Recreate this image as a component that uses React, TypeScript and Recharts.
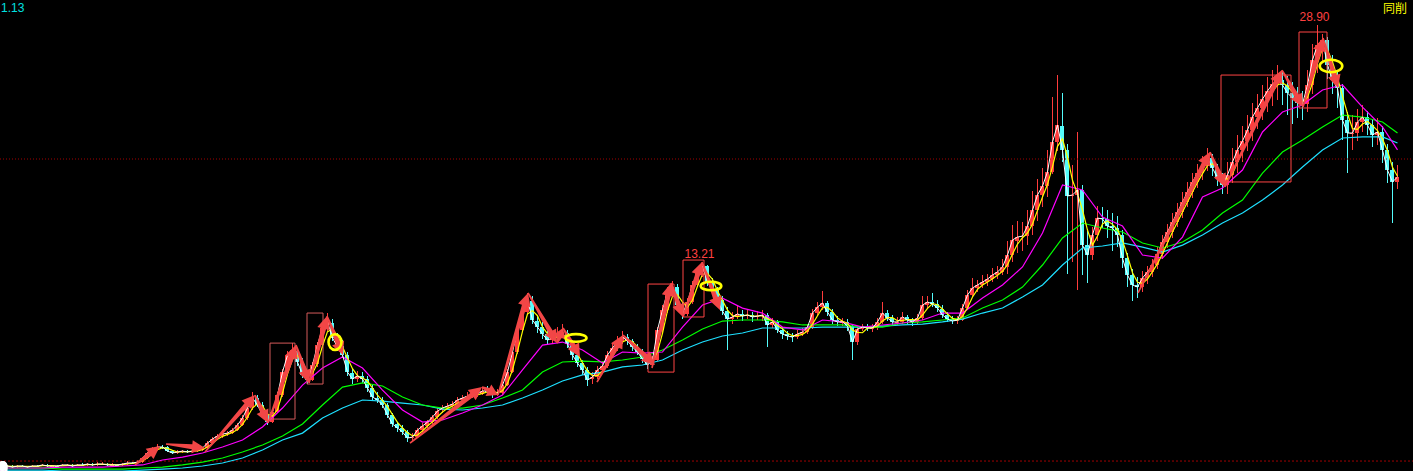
import {
  Bar,
  ComposedChart,
  Line,
  ReferenceArea,
  ReferenceDot,
  ReferenceLine,
  XAxis,
  YAxis,
} from 'recharts';

const W = 1413;
const H = 471;

const UP = '#ff3c3c';
const DOWN = '#54fcfc';
const ARROW = '#f24646';
const RING = '#ffff00';
const GRID = '#a00000';

// One candle per five sessions: [open, high, low, close], forward-adjusted price.
const OHLC: [number, number, number, number][] = [
  [-0.30, -0.22, -0.40, -0.33], [-0.35, -0.26, -0.42, -0.33], [-0.33, -0.28, -0.46, -0.40], [-0.40, -0.28, -0.44, -0.33], [-0.31, -0.26, -0.40, -0.33],
  [-0.34, -0.30, -0.46, -0.40], [-0.40, -0.28, -0.42, -0.33], [-0.32, -0.26, -0.40, -0.33], [-0.33, -0.18, -0.36, -0.26], [-0.27, -0.22, -0.40, -0.33],
  [-0.35, -0.26, -0.40, -0.33], [-0.30, -0.24, -0.38, -0.33], [-0.33, -0.20, -0.36, -0.26], [-0.28, -0.18, -0.34, -0.26], [-0.27, -0.22, -0.38, -0.33],
  [-0.33, -0.18, -0.36, -0.26], [-0.24, -0.16, -0.32, -0.26], [-0.27, -0.10, -0.30, -0.20], [-0.21, -0.14, -0.32, -0.26], [-0.27, -0.08, -0.30, -0.20],
  [-0.22, -0.06, -0.28, -0.20], [-0.20, -0.14, -0.34, -0.26], [-0.28, -0.16, -0.33, -0.26], [-0.25, -0.18, -0.34, -0.26], [-0.27, -0.10, -0.30, -0.20],
  [-0.21, -0.02, -0.24, -0.13], [-0.12, -0.04, -0.22, -0.13], [-0.14, 0.05, -0.18, -0.07], [-0.07, 0.30, -0.10, 0.20], [0.22, 0.62, 0.15, 0.53],
  [0.55, 0.95, 0.45, 0.79], [0.80, 1.10, 0.70, 0.93], [0.95, 1.08, 0.78, 0.93], [0.90, 0.98, 0.58, 0.66], [0.66, 0.74, 0.45, 0.53],
  [0.52, 0.70, 0.47, 0.60], [0.62, 0.76, 0.55, 0.66], [0.66, 0.72, 0.52, 0.60], [0.60, 0.75, 0.55, 0.66], [0.64, 0.82, 0.60, 0.73],
  [0.74, 0.95, 0.68, 0.86], [0.88, 1.30, 0.82, 1.19], [1.20, 1.58, 1.12, 1.46], [1.50, 1.80, 1.38, 1.66], [1.64, 1.92, 1.55, 1.79],
  [1.82, 1.98, 1.66, 1.85], [1.86, 2.20, 1.78, 2.05], [2.06, 2.55, 1.98, 2.38], [2.40, 3.02, 2.30, 2.85], [2.88, 3.70, 2.75, 3.51],
  [3.55, 4.57, 3.40, 4.17], [4.15, 4.40, 3.55, 3.71], [3.72, 3.90, 2.90, 3.05], [3.02, 3.20, 2.40, 2.58], [2.60, 3.45, 2.50, 3.25],
  [3.28, 4.60, 3.15, 4.37], [4.40, 6.10, 4.25, 5.89], [5.90, 7.30, 5.70, 7.02], [7.05, 7.81, 6.70, 7.35], [7.30, 7.50, 6.30, 6.56],
  [6.55, 6.80, 5.50, 5.70], [5.72, 5.90, 5.10, 5.36], [5.38, 6.55, 5.30, 6.36], [6.40, 7.90, 6.20, 7.68], [7.70, 9.10, 7.50, 8.81],
  [8.85, 9.80, 8.60, 9.21], [9.15, 9.40, 7.95, 8.15], [8.10, 8.45, 7.30, 7.55], [7.60, 8.00, 6.80, 7.02], [7.00, 7.20, 5.60, 5.89],
  [5.85, 6.10, 5.10, 5.43], [5.40, 5.95, 5.25, 5.63], [5.65, 5.90, 5.20, 5.43], [5.45, 5.60, 4.60, 4.83], [4.85, 5.05, 4.05, 4.24],
  [4.20, 4.60, 3.85, 4.04], [4.05, 4.25, 3.50, 3.71], [3.70, 3.85, 2.85, 3.05], [3.05, 3.20, 2.25, 2.45], [2.42, 2.60, 1.95, 2.19],
  [2.20, 2.40, 1.70, 1.92], [1.90, 2.05, 1.28, 1.52], [1.50, 1.85, 1.35, 1.59], [1.62, 2.20, 1.55, 2.05], [2.05, 2.50, 1.95, 2.32],
  [2.30, 2.75, 2.20, 2.58], [2.60, 3.05, 2.45, 2.91], [2.90, 3.50, 2.80, 3.31], [3.35, 3.70, 3.20, 3.51], [3.50, 3.85, 3.35, 3.64],
  [3.66, 3.95, 3.50, 3.77], [3.75, 4.25, 3.65, 4.04], [4.05, 4.35, 3.90, 4.17], [4.15, 4.55, 4.05, 4.30], [4.32, 4.60, 4.15, 4.37],
  [4.40, 4.70, 4.25, 4.44], [4.45, 4.85, 4.35, 4.64], [4.66, 4.95, 4.45, 4.64], [4.62, 4.80, 4.20, 4.44], [4.42, 4.75, 4.30, 4.50],
  [4.52, 5.25, 4.40, 5.03], [5.05, 6.10, 4.95, 5.89], [5.90, 7.45, 5.80, 7.22], [7.25, 8.95, 7.10, 8.68], [8.70, 10.20, 8.55, 9.87],
  [9.90, 11.13, 9.70, 10.66], [10.60, 10.90, 9.10, 9.34], [9.30, 9.60, 8.50, 8.87], [8.85, 9.20, 8.10, 8.41], [8.40, 8.70, 7.75, 8.01],
  [8.00, 8.45, 7.80, 8.15], [8.18, 8.90, 8.05, 8.41], [8.40, 9.10, 8.20, 8.48], [8.45, 8.70, 7.50, 7.75], [7.78, 8.00, 6.70, 7.02],
  [7.00, 7.20, 6.20, 6.49], [6.50, 6.70, 5.70, 6.03], [6.00, 6.20, 5.00, 5.36], [5.40, 5.90, 5.10, 5.56], [5.58, 6.30, 5.40, 6.03],
  [6.05, 6.60, 5.85, 6.29], [6.30, 7.30, 6.15, 7.02], [7.00, 7.80, 6.85, 7.48], [7.50, 8.30, 7.30, 7.95], [7.95, 8.60, 7.75, 8.21],
  [8.20, 8.40, 7.70, 7.95], [7.95, 8.10, 7.30, 7.55], [7.55, 7.75, 7.00, 7.22], [7.20, 7.40, 6.50, 6.75], [6.75, 6.95, 6.10, 6.36],
  [6.35, 6.95, 6.20, 6.69], [6.70, 8.90, 6.60, 8.68], [8.70, 10.30, 8.55, 10.00], [10.00, 11.50, 9.80, 11.19], [11.20, 11.95, 10.90, 11.52],
  [11.50, 11.70, 10.10, 10.33], [10.30, 10.50, 9.40, 9.74], [9.75, 10.80, 9.60, 10.53], [10.55, 11.90, 10.40, 11.66], [11.65, 12.80, 11.50, 12.52],
  [12.50, 13.21, 12.20, 12.91], [12.90, 13.00, 11.60, 11.85], [11.85, 12.10, 11.00, 11.32], [11.30, 11.55, 10.40, 10.66], [10.65, 10.90, 9.70, 9.93],
  [9.95, 10.20, 7.35, 9.40], [9.40, 9.90, 9.10, 9.54], [9.55, 10.30, 9.40, 9.74], [9.75, 10.00, 9.30, 9.60], [9.60, 10.10, 9.40, 9.67],
  [9.65, 9.90, 9.20, 9.54], [9.55, 9.95, 9.35, 9.60], [9.60, 10.00, 9.30, 9.67], [9.65, 9.80, 7.55, 9.01], [9.00, 9.50, 8.80, 9.21],
  [9.20, 9.35, 8.45, 8.68], [8.70, 8.90, 8.10, 8.41], [8.40, 8.60, 8.00, 8.28], [8.30, 8.50, 7.90, 8.21], [8.20, 8.65, 8.05, 8.41],
  [8.40, 8.80, 8.25, 8.54], [8.55, 9.10, 8.40, 8.87], [8.85, 10.05, 8.75, 9.80], [9.80, 10.50, 9.60, 10.20], [10.20, 11.25, 10.00, 10.46],
  [10.45, 10.60, 9.60, 9.87], [9.85, 10.05, 9.10, 9.34], [9.35, 9.60, 8.95, 9.21], [9.20, 9.50, 8.95, 9.21], [9.20, 9.40, 8.60, 8.94],
  [8.95, 9.10, 6.69, 7.88], [7.90, 8.95, 7.70, 8.74], [8.75, 9.10, 8.60, 8.87], [8.85, 9.05, 8.60, 8.81], [8.80, 9.10, 8.55, 8.81],
  [8.80, 9.45, 8.70, 9.21], [9.20, 10.55, 9.10, 9.80], [9.80, 10.00, 9.25, 9.47], [9.45, 9.70, 8.95, 9.21], [9.20, 9.55, 9.00, 9.21],
  [9.20, 9.85, 9.05, 9.54], [9.55, 9.70, 9.10, 9.34], [9.35, 9.50, 8.95, 9.21], [9.20, 9.75, 9.05, 9.47], [9.45, 10.90, 9.35, 10.33],
  [10.35, 10.95, 10.10, 10.53], [10.50, 11.10, 10.20, 10.40], [10.40, 10.65, 9.90, 10.13], [10.10, 10.30, 9.45, 9.67], [9.70, 9.90, 9.20, 9.40],
  [9.40, 9.60, 9.05, 9.27], [9.25, 9.60, 9.10, 9.34], [9.35, 10.40, 9.25, 10.13], [10.15, 11.30, 10.00, 10.99], [11.00, 12.10, 10.85, 11.46],
  [11.45, 12.00, 11.20, 11.66], [11.65, 12.30, 11.45, 11.85], [11.85, 12.40, 11.60, 12.05], [12.05, 12.80, 11.85, 12.32], [12.30, 12.90, 12.05, 12.52],
  [12.50, 13.40, 12.30, 12.85], [12.85, 14.60, 12.40, 13.64], [13.65, 15.60, 13.20, 14.64], [14.60, 15.90, 13.80, 14.83], [14.85, 15.80, 13.90, 14.90],
  [14.90, 16.60, 14.30, 15.56], [15.55, 17.90, 15.00, 16.62], [16.60, 18.70, 15.90, 17.62], [17.60, 19.40, 16.80, 18.21], [18.20, 20.60, 17.50, 19.14],
  [19.15, 24.10, 19.00, 21.13], [21.15, 25.56, 20.50, 22.25], [22.20, 24.37, 19.80, 20.60], [20.60, 21.00, 12.40, 17.55], [17.55, 19.60, 13.20, 17.62],
  [17.60, 21.79, 11.30, 17.95], [17.95, 18.30, 12.30, 14.30], [14.30, 15.20, 11.80, 13.64], [13.65, 15.50, 13.30, 14.97], [14.95, 16.90, 14.60, 16.09],
  [16.10, 16.80, 15.40, 16.03], [16.00, 16.60, 14.80, 15.56], [15.55, 16.40, 13.90, 15.43], [15.45, 16.20, 14.20, 14.97], [14.95, 15.30, 12.80, 13.44],
  [13.45, 13.80, 11.50, 12.32], [12.30, 12.70, 10.60, 11.66], [11.65, 12.20, 10.80, 11.52], [11.50, 12.60, 11.20, 12.12], [12.10, 12.90, 11.70, 12.52],
  [12.50, 13.40, 12.20, 12.98], [13.00, 14.20, 12.70, 13.71], [13.70, 15.00, 13.40, 14.50], [14.50, 15.70, 14.10, 15.17], [15.15, 16.40, 14.80, 15.83],
  [15.85, 17.10, 15.50, 16.49], [16.50, 17.80, 16.10, 17.15], [17.15, 18.50, 16.80, 17.81], [17.80, 19.10, 17.40, 18.48], [18.50, 19.70, 18.10, 19.07],
  [19.05, 20.20, 18.60, 19.54], [19.55, 20.70, 19.20, 20.07], [20.05, 20.30, 18.90, 19.40], [19.40, 19.70, 18.20, 18.74], [18.75, 19.10, 17.70, 18.28],
  [18.30, 19.80, 17.70, 18.94], [18.95, 20.70, 18.40, 19.80], [19.80, 21.60, 19.10, 20.60], [20.60, 22.20, 19.80, 21.19], [21.20, 22.90, 20.50, 21.92],
  [21.90, 23.70, 21.20, 22.78], [22.80, 24.30, 22.00, 23.38], [23.40, 24.90, 22.60, 23.97], [23.95, 25.40, 23.10, 24.50], [24.50, 25.90, 23.50, 24.97],
  [25.00, 26.20, 23.90, 25.23], [25.20, 25.80, 23.60, 24.90], [24.90, 25.50, 22.90, 24.37], [24.35, 25.10, 22.30, 24.04], [24.05, 24.80, 22.70, 23.71],
  [23.70, 24.50, 22.60, 23.64], [23.65, 25.90, 23.10, 24.90], [24.90, 27.60, 24.30, 26.56], [26.55, 28.90, 25.70, 27.55], [27.55, 28.30, 26.50, 27.88],
  [27.90, 28.10, 25.30, 26.23], [26.25, 26.90, 24.30, 25.23], [25.25, 25.80, 23.40, 24.70], [24.70, 25.00, 21.26, 22.58], [22.60, 23.10, 19.07, 21.72],
  [21.70, 22.90, 20.60, 21.72], [21.70, 23.30, 21.20, 22.45], [22.45, 23.60, 21.80, 22.78], [22.80, 23.20, 21.60, 22.25], [22.25, 22.60, 20.80, 21.59],
  [21.60, 22.70, 20.90, 21.79], [21.80, 22.20, 19.74, 20.60], [20.60, 21.00, 18.40, 19.27], [19.30, 19.80, 15.76, 18.48], [18.50, 19.60, 18.00, 18.81],
];

// Slow averages sampled every MA_STEP candles, last sample on the final candle.
const MA_STEP = 4;
const MA_MID = [
  -0.46, -0.46, -0.46, -0.40, -0.40, -0.40, -0.33, -0.26, 0.07, 0.26,
  0.53, 0.93, 1.39, 2.25, 3.51, 5.03, 6.16, 6.89, 6.16, 4.70,
  3.38, 2.58, 2.72, 3.18, 3.71, 4.37, 6.03, 7.68, 7.88, 7.35,
  6.49, 7.22, 7.15, 7.22, 8.87, 10.33, 10.79, 10.13, 9.80, 8.87,
  8.68, 9.34, 9.21, 8.87, 9.01, 9.14, 9.34, 9.80, 9.80, 10.79,
  11.66, 12.85, 15.10, 18.28, 17.95, 16.16, 15.56, 13.64, 13.44, 14.83,
  17.48, 18.08, 19.27, 21.79, 23.11, 23.58, 24.57, 24.90, 23.44, 22.12,
  20.60,
];
const MA_LONG = [
  -0.46, -0.46, -0.46, -0.53, -0.53, -0.53, -0.53, -0.46, -0.40, -0.26,
  -0.07, 0.20, 0.60, 1.06, 1.66, 2.45, 3.71, 4.90, 5.17, 4.97,
  4.24, 3.71, 3.51, 3.51, 3.71, 4.17, 4.70, 5.89, 6.56, 6.62,
  6.56, 6.69, 6.89, 7.35, 8.01, 8.74, 9.27, 9.34, 9.34, 9.21,
  9.01, 9.01, 9.01, 8.87, 8.87, 9.14, 9.21, 9.34, 9.47, 10.13,
  10.66, 11.52, 12.98, 14.77, 15.76, 15.43, 15.17, 14.44, 14.11, 14.50,
  15.30, 16.42, 17.28, 19.07, 20.46, 21.26, 22.12, 22.91, 22.78, 22.45,
  21.72,
];
const MA_YEAR = [
  -0.60, -0.60, -0.60, -0.66, -0.66, -0.66, -0.66, -0.60, -0.53, -0.46,
  -0.33, -0.13, 0.20, 0.73, 1.39, 1.85, 2.85, 3.51, 4.04, 3.97,
  3.84, 3.71, 3.44, 3.38, 3.51, 3.71, 4.17, 4.70, 5.30, 5.70,
  5.89, 6.23, 6.36, 6.69, 7.35, 7.88, 8.28, 8.48, 8.81, 8.81,
  8.81, 8.87, 8.87, 8.87, 8.94, 9.01, 9.07, 9.21, 9.40, 9.80,
  10.13, 10.86, 11.66, 12.98, 14.11, 14.24, 14.44, 14.17, 13.84, 14.30,
  14.97, 15.76, 16.42, 17.28, 18.28, 19.47, 20.60, 21.39, 21.46, 21.46,
  21.06,
];

// Zig-zag legs: [fromBar, fromPrice, toBar, toPrice]
const LEGS: [number, number, number, number][] = [
  [26.5, -0.26, 31.5, 0.99], [32.7, 1.13, 40.5, 0.86], [40.5, 0.60, 50.5, 4.37], [50.5, 4.37, 53.1, 2.52],
  [53.1, 2.52, 58.7, 7.68], [58.7, 7.68, 61.3, 5.17], [61.3, 5.17, 64.9, 9.60], [64.9, 9.60, 68.1, 7.02],
  [81.5, 1.19, 95.9, 4.90], [95.9, 4.90, 99.1, 4.37], [99.1, 4.37, 105.1, 11.13], [105.1, 11.13, 110.9, 7.81],
  [110.9, 7.81, 112.1, 8.81], [112.1, 8.81, 115.5, 6.89], [118.9, 5.23, 124.1, 8.34], [124.1, 8.34, 130.5, 6.36],
  [129.9, 6.16, 133.7, 11.79], [133.7, 11.79, 136.1, 9.54], [136.1, 9.54, 139.9, 13.18], [139.9, 13.18, 143.5, 10.00],
  [227.1, 11.13, 241.5, 20.46], [241.5, 20.46, 244.5, 18.15], [244.5, 18.15, 255.9, 25.89], [255.9, 25.89, 260.1, 23.44],
  [260.1, 23.44, 264.1, 28.01], [264.1, 28.01, 267.1, 24.70],
];

// Boxes around swings: [fromBar, toBar, topPrice, bottomPrice]
const BOXES: [number, number, number, number][] = [
  [53.5, 58.5, 7.81, 2.78], [60.9, 64.1, 9.80, 5.10], [129.1, 134.3, 11.72, 5.89],
  [136.1, 140.3, 13.31, 9.54], [243.7, 257.7, 25.56, 18.48], [259.3, 264.9, 28.41, 23.38],
];

// Marked breakdown points: [bar, price]
const RINGS: [number, number][] = [
  [66.5, 7.88], [114.7, 8.15], [141.7, 11.59], [265.7, 26.16],
];
const RING_RADII: [number, number][] = [[6.5, 7.8], [10.5, 3.8], [10.3, 4.3], [11.3, 6.3]];

// Bars whose high gets printed above them.
const PEAK_BARS = [140, 263];

const X_DOMAIN: [number, number] = [-0.5, 282.1];
const Y_DOMAIN: [number, number] = [-0.66, 30.53];

type Row = {
  i: number; o: number; h: number; l: number; c: number;
  ma5: number; ma10: number; mid?: number; long?: number; year?: number;
};

const closes = OHLC.map((d) => d[3]);
const avg = (end: number, n: number) => {
  const from = Math.max(0, end - n + 1);
  const s = closes.slice(from, end + 1);
  return s.reduce((a, b) => a + b, 0) / s.length;
};

const rows: Row[] = OHLC.map(([o, h, l, c], i) => ({ i, o, h, l, c, ma5: avg(i, 1), ma10: avg(i, 3) }));
const sampleBar = (k: number, len: number) => (k < len - 1 ? k * MA_STEP : OHLC.length - 1);
MA_MID.forEach((v, k) => { rows[sampleBar(k, MA_MID.length)].mid = v; });
MA_LONG.forEach((v, k) => { rows[sampleBar(k, MA_LONG.length)].long = v; });
MA_YEAR.forEach((v, k) => { rows[sampleBar(k, MA_YEAR.length)].year = v; });

function Candle(props: any) {
  const { x, y, width, height, payload } = props;
  if (!payload) return null;
  const top = Math.min(y, y + height);
  const full = Math.abs(height);
  const span = payload.h - payload.l || 1;
  const k = full / span;
  const yo = top + (payload.h - payload.o) * k;
  const yc = top + (payload.h - payload.c) * k;
  const color = payload.c >= payload.o ? UP : DOWN;
  const cx = Math.round(x + width / 2) + 0.5;
  return (
    <g shapeRendering="crispEdges">
      <line x1={cx} x2={cx} y1={top} y2={top + full} stroke={color} strokeWidth={1} />
      <rect x={Math.round(x)} y={Math.min(yo, yc)} width={Math.round(width)} height={Math.max(1, Math.abs(yc - yo))} fill={color} />
    </g>
  );
}

function Arrow(props: any) {
  const { x1, y1, x2, y2 } = props;
  const dx = x2 - x1;
  const dy = y2 - y1;
  const len = Math.hypot(dx, dy) || 1;
  const ux = dx / len;
  const uy = dy / len;
  const nx = -uy;
  const ny = ux;
  const head = Math.min(13, len * 0.6);
  const hw = 6.5;
  const neck = 2.5;
  const tail = 0.8;
  const bx = x2 - ux * head;
  const by = y2 - uy * head;
  const pts = [
    [x1 + nx * tail, y1 + ny * tail],
    [bx + nx * neck, by + ny * neck],
    [bx + nx * hw, by + ny * hw],
    [x2, y2],
    [bx - nx * hw, by - ny * hw],
    [bx - nx * neck, by - ny * neck],
    [x1 - nx * tail, y1 - ny * tail],
  ];
  return <polygon points={pts.map((p) => p.join(',')).join(' ')} fill={ARROW} />;
}

export default function App() {
  return (
    <div style={{ position: 'fixed', inset: 0, background: '#000', overflow: 'hidden' }}>
      <ComposedChart width={W} height={H} data={rows} margin={{ top: 0, right: 0, bottom: 0, left: 0 }}>
        <XAxis dataKey="i" type="number" domain={X_DOMAIN} allowDataOverflow hide />
        <YAxis type="number" domain={Y_DOMAIN} allowDataOverflow hide />
        <ReferenceLine y={20} stroke={GRID} strokeDasharray="1 2" />
        <ReferenceLine y={0} stroke={GRID} strokeDasharray="2 2" />
        <Bar
          dataKey={(d: Row) => [d.l, d.h]}
          barSize={4}
          shape={<Candle />}
          isAnimationActive={false}
        />
        <Line dataKey="year" stroke="#1ee0ff" strokeWidth={1.2} dot={false} connectNulls isAnimationActive={false} />
        <Line dataKey="long" stroke="#00ff00" strokeWidth={1.2} dot={false} connectNulls isAnimationActive={false} />
        <Line dataKey="mid" stroke="#ff00ff" strokeWidth={1.2} dot={false} connectNulls isAnimationActive={false} />
        <Line dataKey="ma10" stroke="#ffff00" strokeWidth={1.2} dot={false} isAnimationActive={false} />
        <Line dataKey="ma5" stroke="#ffffff" strokeWidth={1} dot={false} isAnimationActive={false} />
        {BOXES.map(([a, b, t, btm], k) => (
          <ReferenceArea
            key={`box-${k}`}
            x1={a}
            x2={b}
            y1={btm}
            y2={t}
            fill="none"
            stroke={k < 2 ? '#d45a5a' : '#ff4444'}
            strokeWidth={1}
            zIndex={1500}
          />
        ))}
        {LEGS.map(([a, pa, b, pb], k) => (
          <ReferenceLine
            key={`leg-${k}`}
            segment={[{ x: a, y: pa }, { x: b, y: pb }]}
            shape={(p: any) => <Arrow {...p} />}
            zIndex={1600}
          />
        ))}
        {RINGS.map(([b, p], k) => (
          <ReferenceDot
            key={`ring-${k}`}
            x={b}
            y={p}
            r={4}
            zIndex={1700}
            shape={(s: any) => (
              <ellipse cx={s.cx} cy={s.cy} rx={RING_RADII[k][0]} ry={RING_RADII[k][1]} fill="none" stroke={RING} strokeWidth={2.6} />
            )}
          />
        ))}
        {PEAK_BARS.map((b) => (
          <ReferenceDot
            key={`peak-${b}`}
            x={b}
            y={OHLC[b][1]}
            r={1}
            zIndex={1800}
            shape={(s: any) => (
              <text x={s.cx - 3} y={s.cy - 4} textAnchor="middle" fill="#ff4040" fontSize={12} fontFamily="Liberation Sans, Arial, sans-serif">
                {OHLC[b][1].toFixed(2)}
              </text>
            )}
          />
        ))}
      </ComposedChart>
      <div style={{ position: 'absolute', left: 1, top: 1, color: '#00e0e0', font: '12px "Liberation Sans", Arial, sans-serif', lineHeight: '14px' }}>1.13</div>
      <div style={{ position: 'absolute', right: 6, top: 1, color: '#ffff00', font: '12px "Noto Sans CJK SC", sans-serif', lineHeight: '14px' }}>同削</div>
    </div>
  );
}
